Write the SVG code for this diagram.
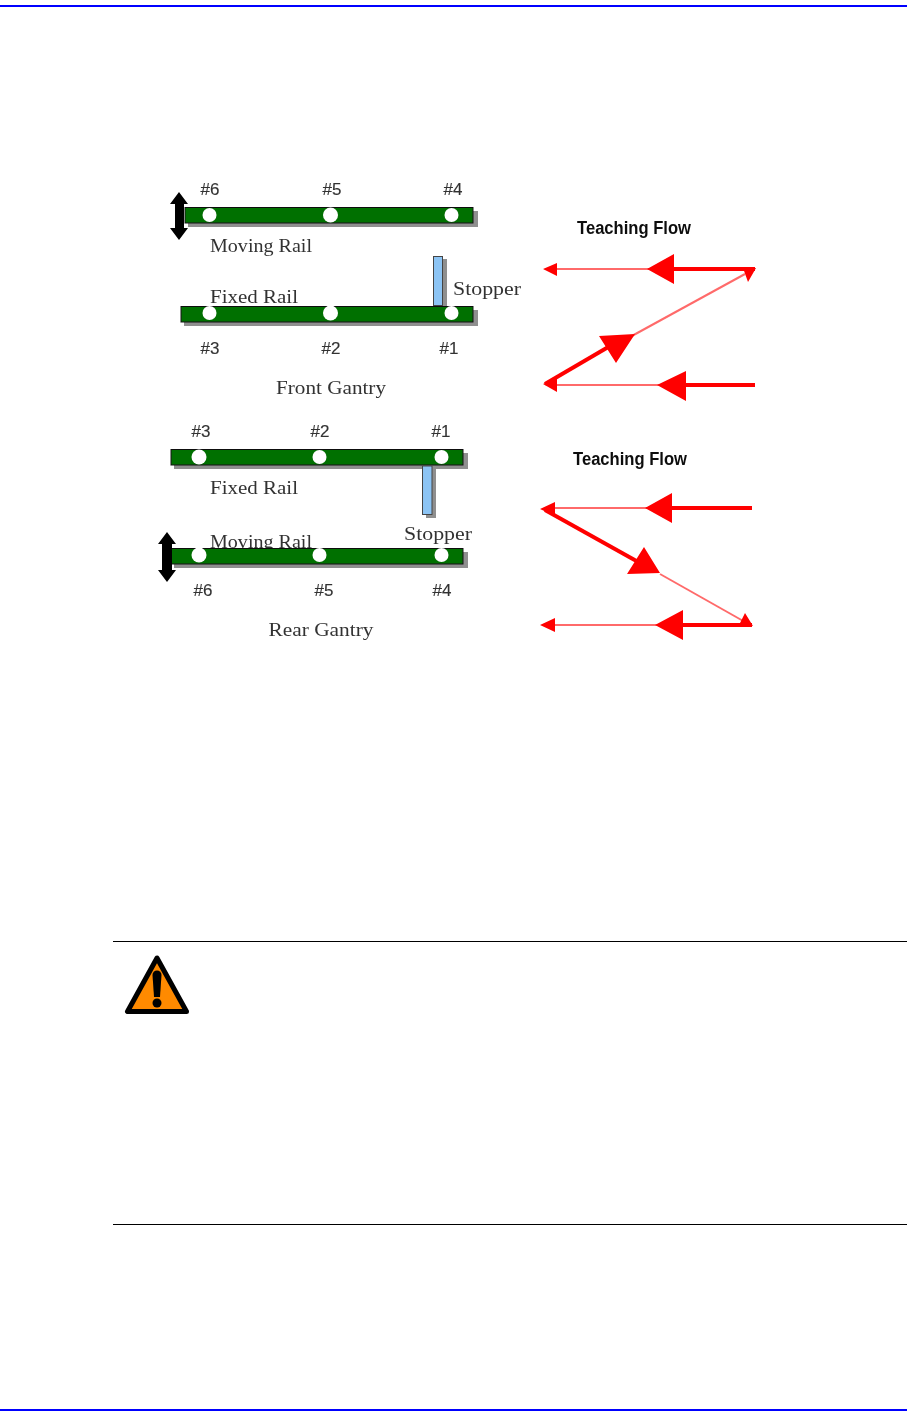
<svg xmlns="http://www.w3.org/2000/svg" width="907" height="1421" viewBox="0 0 907 1421">
<defs><filter id="soft" x="-5%" y="-5%" width="110%" height="110%"><feGaussianBlur stdDeviation="0.45"/></filter></defs>
<style>
text{font-family:"Liberation Serif","DejaVu Serif",serif;fill:#333;font-size:19px;text-anchor:middle}
.n{font-family:"Liberation Sans",Arial,sans-serif;font-size:17px;stroke:#333;stroke-width:.15}
.t{font-family:"Liberation Sans",Arial,sans-serif;font-weight:bold;font-size:18px;fill:#111}
.blue{fill:#0000ff}
.shadow{fill:#8f8f8f}
.rail{fill:#067006;stroke:#111;stroke-width:1}
.dot{fill:#fff}
.stop{fill:#8cc4f4;stroke:#444;stroke-width:1}
.thin{stroke:#ff6a6a;stroke-width:2;fill:none}
.thick{stroke:#f00;stroke-width:4;fill:none}
.head{fill:#f00}
</style>
<rect width="907" height="1421" fill="#fff"/>
<rect class="blue" x="0" y="5" width="907" height="2"/>
<rect class="blue" x="0" y="1409" width="907" height="2"/>

<g filter="url(#soft)">
<g id="front-moving-rail">
<rect class="shadow" x="188" y="211" width="290" height="16"/>
<rect class="rail" x="185" y="207.500" width="288" height="15.500"/>
<circle class="dot" cx="209.500" cy="215" r="7"/><circle class="dot" cx="330.500" cy="215" r="7.500"/><circle class="dot" cx="451.500" cy="215" r="7"/>
<path d="M179 192l9 12h-4v24h4l-9 12-9-12h5v-24h-5z" fill="#000"/>
<text class="n" x="210" y="195">#6</text><text class="n" x="332" y="195">#5</text><text class="n" x="453" y="195">#4</text>
<text x="261" y="252" textLength="102" lengthAdjust="spacingAndGlyphs">Moving Rail</text>
</g>
<g id="front-stopper">
<rect class="shadow" x="437" y="259" width="10" height="47"/>
<rect class="stop" x="433.500" y="256.500" width="9" height="49"/>
<text x="487" y="295" textLength="68" lengthAdjust="spacingAndGlyphs">Stopper</text>
</g>
<g id="front-fixed-rail">
<rect class="shadow" x="184" y="310" width="294" height="16"/>
<rect class="rail" x="181" y="306.500" width="292" height="15.500"/>
<circle class="dot" cx="209.500" cy="313" r="7"/><circle class="dot" cx="330.500" cy="313" r="7.500"/><circle class="dot" cx="451.500" cy="313" r="7"/>
<text x="254" y="303" textLength="88" lengthAdjust="spacingAndGlyphs">Fixed Rail</text>
<text class="n" x="210" y="354">#3</text><text class="n" x="331" y="354">#2</text><text class="n" x="449" y="354">#1</text>
<text x="331" y="394" textLength="110" lengthAdjust="spacingAndGlyphs">Front Gantry</text>
</g>

<g id="connectors-front">
<line class="thin" x1="550" y1="269" x2="650" y2="269"/>
<line class="thick" x1="670" y1="269" x2="755" y2="269"/>
<line class="thin" x1="745" y1="274" x2="630" y2="337"/>
<line class="thick" x1="610" y1="346" x2="545" y2="384"/>
<line class="thin" x1="550" y1="385" x2="665" y2="385"/>
<line class="thick" x1="680" y1="385" x2="755" y2="385"/>
<path class="head" d="M543 269l14-6v13zM647 269l27-15v30zM756 268h-13l5 14zM635 334l-36 2 17 27zM543 384l14-7v15zM657 385l29-14v30z"/>
</g>
<text class="t" id="label-flow-front" x="634" y="234" textLength="114" lengthAdjust="spacingAndGlyphs">Teaching Flow</text>

<g id="rear-fixed-rail">
<rect class="shadow" x="174" y="453" width="294" height="16"/>
<rect class="rail" x="171" y="449.500" width="292" height="15.500"/>
<circle class="dot" cx="199" cy="457" r="7.500"/><circle class="dot" cx="319.500" cy="457" r="7"/><circle class="dot" cx="441.500" cy="457" r="7"/>
<text class="n" x="201" y="437">#3</text><text class="n" x="320" y="437">#2</text><text class="n" x="441" y="437">#1</text>
<text x="254" y="494" textLength="88" lengthAdjust="spacingAndGlyphs">Fixed Rail</text>
</g>
<g id="rear-stopper">
<rect class="shadow" x="426" y="468" width="10" height="50"/>
<rect class="stop" x="422.500" y="466" width="9.500" height="48.500"/>
<text x="438" y="540" textLength="68" lengthAdjust="spacingAndGlyphs">Stopper</text>
</g>
<g id="rear-moving-rail">
<text x="261" y="548" textLength="102" lengthAdjust="spacingAndGlyphs">Moving Rail</text>
<rect class="shadow" x="174" y="552" width="294" height="16"/>
<rect class="rail" x="171" y="548.500" width="292" height="15.500"/>
<circle class="dot" cx="199" cy="555" r="7.500"/><circle class="dot" cx="319.500" cy="555" r="7"/><circle class="dot" cx="441.500" cy="555" r="7"/>
<path d="M167 532l9 12h-4v26h4l-9 12-9-12h4v-26h-4z" fill="#000"/>
<text class="n" x="203" y="596">#6</text><text class="n" x="324" y="596">#5</text><text class="n" x="442" y="596">#4</text>
<text x="321" y="636" textLength="105" lengthAdjust="spacingAndGlyphs">Rear Gantry</text>
</g>

<g id="connectors-rear">
<line class="thin" x1="550" y1="508" x2="650" y2="508"/>
<line class="thick" x1="665" y1="508" x2="752" y2="508"/>
<line class="thick" x1="545" y1="510" x2="640" y2="563"/>
<line class="thin" x1="660" y1="574" x2="745" y2="622"/>
<line class="thin" x1="550" y1="625" x2="665" y2="625"/>
<line class="thick" x1="675" y1="625" x2="752" y2="625"/>
<path class="head" d="M540 509l15-7v14zM645 508l27-15v30zM627 574l33-1-16-26zM753 626l-13-3 5-10zM540 625l15-7v14zM655 625l28-15v30z"/>
</g>
<text class="t" id="label-flow-rear" x="630" y="465" textLength="114" lengthAdjust="spacingAndGlyphs">Teaching Flow</text>
</g>

<rect x="113" y="941" width="794" height="1" fill="#000"/>
<rect x="113" y="1224" width="794" height="1" fill="#000"/>
<g id="warning-icon">
<path d="M157 958 127.500 1011.500H186.500Z" fill="#ff8a00" stroke="#000" stroke-width="5" stroke-linejoin="round"/>
<path d="M152.500 975a4.500 4.500 0 0 1 9 0l-1.500 22h-6z" fill="#000"/>
<circle cx="157" cy="1003" r="4.500" fill="#000"/>
</g>
</svg>
